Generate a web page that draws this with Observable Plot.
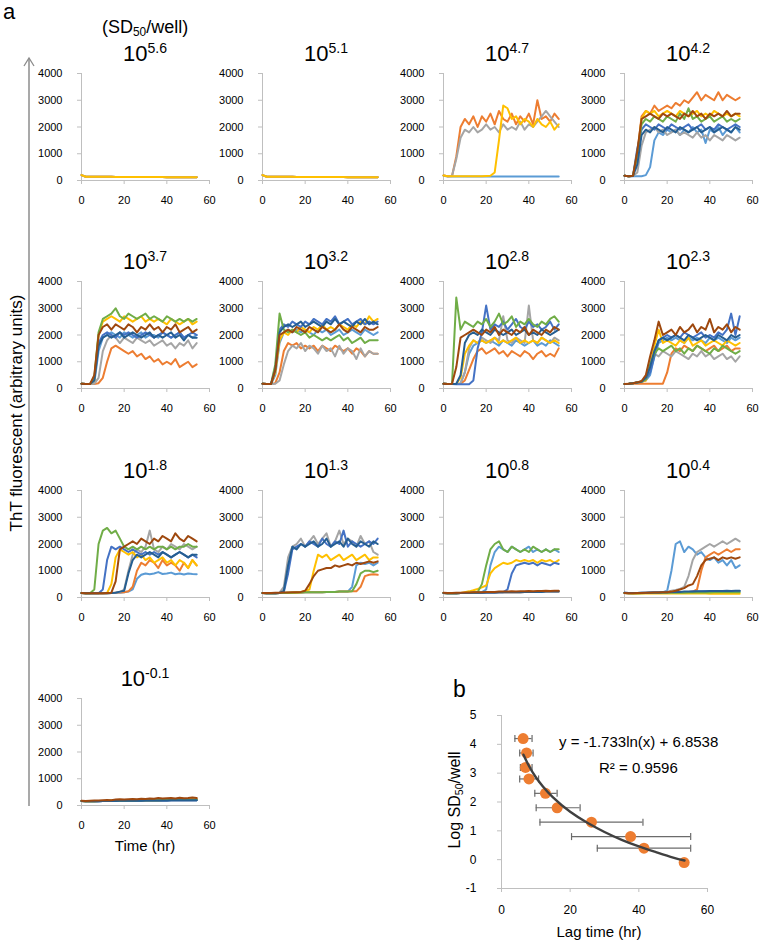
<!DOCTYPE html>
<html><head><meta charset="utf-8">
<script src="https://cdn.jsdelivr.net/npm/d3@7"></script>
<script src="https://cdn.jsdelivr.net/npm/@observablehq/plot@0.6"></script>
<style>
body{margin:0;background:#fff;font-family:"Liberation Sans",Arial,sans-serif;color:#000;}
#root{position:relative;width:760px;height:946px;overflow:hidden;background:#fff;}
.txt{position:absolute;line-height:1;white-space:nowrap;}
.txt sup{font-size:0.64em;position:relative;top:-0.62em;vertical-align:baseline;}
.txt sub{font-size:0.66em;position:relative;top:0.25em;vertical-align:baseline;}
</style></head><body><div id="root"></div>
<script>
// ---------- data ----------
const hours = [0,2,4,6,8,10,12,14,16,18,20,22,24,26,28,30,32,34,36,38,40,42,44,46,48,50,52,54];
const wellColors = ["#5B9BD5","#ED7D31","#A5A5A5","#FFC000","#4472C4","#70AD47","#255E91","#9E480E"];
const panelExponents = ["5.6","5.1","4.7","4.2","3.7","3.2","2.8","2.3","1.8","1.3","0.8","0.4","-0.1"];
const xTicks = [0,20,40,60];
const yTicks = [0,1000,2000,3000,4000];
// values are ThT fluorescence / 100, one per 2 hr
const flatHigh = [2.0,1.4,1.4,1.4,1.4,1.4,1.4,1.4,1.3,1.3,1.3,1.3,1.3,1.3,1.3,1.3,1.3,1.3,1.3,1.3,1.2,1.2,1.2,1.2,1.2,1.2,1.2,1.2];
const flatMid = [1.7,1.6,1.6,1.6,1.7,1.7,1.7,1.8,1.8,1.8,1.9,1.9,1.9,2,2,2,2,2,2,2.1,2.1,2.1,2.1,2.1,2.2,2.2,2.2,2.2];
const flatLow = [1.7,1.6,1.6,1.6,1.6,1.7,1.7,1.7,1.7,1.8,1.8,1.8,1.8,1.8,1.8,1.9,1.9,1.9,1.9,1.9,1.9,2,2,2,2,2,2,2];

const w56 = [flatHigh, flatHigh, flatHigh, flatHigh];
const w51 = [flatHigh, flatHigh, flatHigh, flatHigh];
const w47 = [
 [1.8,1.5,1.5,1.5,1.5,1.5,1.5,1.5,1.5,1.5,1.5,1.5,1.5,1.5,1.5,1.5,1.5,1.5,1.5,1.5,1.5,1.5,1.5,1.5,1.5,1.5,1.5,1.5],
 [1.9,1.6,1.7,9,20,23,21,24,20,24,22,25,21,26,23,22,25,21,24,22,25,21,30,23,24,22,25,23],
 [1.9,1.6,1.8,8,16,19,18,20,18,19,21,19,20,18,21,19,20,19,22,19,21,20,22,24,26,24,22,20],
 [1.9,1.6,1.6,1.6,1.6,1.6,1.6,1.6,1.6,1.6,1.7,1.8,3,15,28,27,23,24,21,23,22,20,23,21,20,22,19,21]
];
const w42 = [
 [1.8,1.6,1.6,1.6,1.6,2,5,15,18,17,19,18,19,17,19,18,20,18,19,14,19,18,20,17,19,18,20,18],
 [1.8,1.6,1.8,10,24,26,25,28,26,27,28,27,29,28,30,29,31,33,30,32,31,30,33,30,32,31,30,31],
 [1.8,1.6,1.7,3,13,18,19,20,18,19,17,18,19,17,18,17,16,18,16,17,15,17,16,15,17,16,15,16],
 [1.8,1.6,1.8,9,23,26,25,26,24,25,26,25,24,26,25,24,25,26,24,25,24,26,25,24,25,24,25,24],
 [1.8,1.6,1.8,12,19,21,20,19,21,20,19,21,20,19,20,21,19,20,21,19,20,19,21,20,19,20,21,20],
 [1.8,1.6,1.8,10,21,23,22,24,23,22,24,23,22,25,23,27,23,24,22,23,24,22,23,24,22,23,22,23],
 [1.8,1.6,1.7,6,17,19,18,20,19,18,20,19,18,20,19,18,19,20,18,19,20,18,19,20,19,18,20,19],
 [1.8,1.6,1.8,11,23,24,25,24,23,25,24,25,24,23,25,24,26,24,25,23,25,24,25,24,26,24,25,25]
];
const w37 = [
 [1.8,1.7,1.7,2,14,19,20,21,20,19,21,20,19,20,21,19,20,20,19,21,20,19,20,21,19,20,19,20],
 [1.8,1.7,1.7,1.7,2,4,10,15,16,15,14,13,14,12,13,11,12,10,11,9,10,9,11,8,9,10,8,9],
 [1.8,1.7,1.7,1.8,4,14,18,20,19,17,19,18,17,19,18,17,18,16,17,18,16,17,15,17,16,18,15,17],
 [1.8,1.7,1.7,3,20,25,26,27,26,25,27,26,25,26,27,25,26,25,26,25,24,26,25,24,25,26,24,25],
 [1.8,1.7,1.7,4,17,20,21,20,19,21,20,21,20,19,20,21,20,19,20,21,20,19,20,21,19,20,21,20],
 [1.8,1.7,1.7,4,21,26,27,28,30,27,26,28,27,26,27,28,26,27,26,25,27,26,25,26,25,26,25,26],
 [1.8,1.7,1.7,3,16,19,20,19,20,21,19,20,21,20,19,20,21,19,20,19,20,21,19,20,18,20,19,19],
 [1.8,1.7,1.7,5,20,23,24,22,24,23,22,24,23,21,23,22,24,22,23,21,23,22,24,21,22,23,21,22]
];
const w32 = [
 [1.8,1.7,1.7,5,17,21,22,21,22,21,22,21,20,22,21,22,20,21,22,20,21,22,21,20,22,21,20,21],
 [1.8,1.7,1.7,2,6,14,17,16,17,15,16,15,16,14,16,15,14,16,15,14,15,13,15,14,12,14,13,13],
 [1.8,1.7,1.7,1.8,3,9,14,16,15,17,14,16,15,13,16,14,15,12,16,13,15,14,11,15,12,14,13,13],
 [1.8,1.7,1.7,6,18,21,20,22,21,23,22,21,23,22,24,22,23,22,24,23,22,24,23,25,24,27,25,26],
 [1.8,1.7,1.7,8,22,24,23,25,24,23,25,24,26,25,24,26,25,27,24,25,26,24,25,26,24,25,24,25],
 [1.8,1.7,1.7,9,28,22,21,22,21,20,21,19,20,19,18,19,18,19,20,18,19,17,18,19,17,18,18,18],
 [1.8,1.7,1.7,7,21,23,24,23,24,25,23,24,25,24,23,25,24,26,24,25,24,23,25,24,26,24,25,24],
 [1.8,1.7,1.7,7,20,21,22,21,23,22,21,23,22,21,23,22,21,22,24,22,21,23,22,21,23,22,22,23]
];
const w28 = [
 [1.8,1.7,1.7,1.7,1.8,6,13,16,17,18,17,18,17,16,18,17,16,18,17,16,17,18,16,17,16,18,17,16],
 [1.8,1.7,1.7,1.7,1.8,3,7,11,14,15,13,14,15,13,14,12,14,13,12,14,13,11,13,14,12,13,12,15],
 [1.8,1.7,1.7,1.7,2,6,15,18,17,19,18,17,19,18,27,18,17,19,18,17,31,18,17,19,18,17,19,18],
 [1.8,1.7,1.7,1.7,4,13,16,18,17,18,17,18,19,17,18,17,18,19,17,18,17,18,17,19,18,17,18,17],
 [1.8,1.7,1.7,1.6,1.6,1.6,1.6,3,15,21,31,22,24,23,25,22,24,26,23,22,25,23,24,22,23,25,22,24],
 [1.8,1.7,1.8,34,22,25,24,23,25,24,26,23,25,28,24,25,27,23,25,24,26,24,23,25,24,26,27,25],
 [1.8,1.7,1.7,1.8,5,17,20,21,20,22,21,20,22,21,20,21,22,20,21,22,20,21,20,22,21,20,21,22],
 [1.8,1.7,1.8,8,19,20,21,22,21,20,22,21,23,20,22,21,20,22,21,23,20,22,21,20,22,21,23,22]
];
const w23 = [
 [1.7,1.8,2,2.2,2.5,3,5,12,17,18,19,18,19,18,17,19,18,19,18,17,19,18,19,18,17,19,18,19],
 [1.7,1.8,1.8,1.8,1.8,1.8,1.8,1.8,1.8,1.8,6,13,15,14,16,15,14,16,15,14,15,16,14,15,16,14,15,15],
 [1.7,1.8,2,2.3,2.7,4,11,13,12,14,13,12,14,13,12,11,13,12,14,12,13,11,12,13,11,12,10,12],
 [1.7,1.8,2,2.2,2.5,3,8,16,22,17,18,17,16,18,17,19,16,17,18,16,17,18,17,16,18,17,16,17],
 [1.7,1.8,2,2.2,2.5,3.5,6,12,18,19,20,19,20,19,21,20,19,20,21,19,20,19,21,20,22,28,20,27],
 [1.7,1.8,2,2.2,2.6,3.5,9,13,15,14,15,16,14,15,13,15,14,16,15,14,13,15,14,16,15,14,13,14],
 [1.7,1.8,2,2.2,2.6,4,8,14,18,19,18,19,20,19,18,20,19,18,19,20,19,18,20,19,18,20,19,20],
 [1.7,1.8,2,2.3,2.8,5,12,18,25,20,21,22,20,23,21,22,24,21,23,22,26,21,23,22,24,21,23,22]
];
const w18 = [
 [1.7,1.6,1.6,1.6,1.6,1.6,1.6,1.7,1.8,1.8,2,2.2,3,7,8.5,9,8.7,9,9.5,8.8,9,9.3,8.7,9,8.6,9,8.8,8.7],
 [1.7,1.6,1.6,1.6,1.6,1.6,1.6,1.7,1.8,1.9,2,2.3,4,10,13,12,14,13,11,14,12,13,12,10,13,11,14,12],
 [1.7,1.6,1.6,1.6,1.6,1.6,1.6,1.7,1.8,2,3,10,16,18,17,19,25,18,17,19,18,20,19,18,20,19,18,19],
 [1.7,1.6,1.6,1.6,1.6,1.6,1.7,5,15,18,17,16,17,15,16,14,15,13,14,15,13,14,12,14,13,11,14,12],
 [1.7,1.6,1.6,1.6,1.6,3,14,19,18,19,18,17,18,17,16,17,16,17,16,17,16,15,16,17,16,15,16,15],
 [1.7,1.6,1.6,3,20,25,26,24,25,22,19,18,19,18,19,18,19,18,19,19,18,19,18,19,19,20,19,19],
 [1.7,1.6,1.6,1.6,1.6,1.6,1.6,1.7,1.8,2.2,2.5,9,14,16,15,16,17,16,15,17,16,15,16,17,16,15,16,16],
 [1.7,1.6,1.6,1.6,1.6,1.6,1.7,1.8,6,18,19,20,21,20,22,21,20,22,21,23,22,21,24,22,21,23,22,21]
];
const w13 = [
 [1.7,1.6,1.6,1.6,1.7,1.7,1.8,1.8,1.9,1.9,2,2,2,2,2,2.1,2.1,2.1,2.2,2.2,2.2,4,12,13,12.5,13,12,13],
 [1.7,1.6,1.6,1.6,1.7,1.7,1.8,1.8,1.9,1.9,2,2,2,2,2,2.1,2.1,2.1,2.2,2.2,2.2,2.3,2.3,4,8,8.5,8.7,8.5],
 [1.7,1.6,1.6,1.6,1.8,4,15,19,20,22,19,21,23,20,22,24,19,21,25,20,22,21,19,23,20,21,17,16],
 [1.7,1.6,1.6,1.6,1.7,1.7,1.8,1.8,1.9,2,2.5,3,10,16,15,16,14,15,16,14,15,16,14,15,16,14,15,15],
 [1.7,1.6,1.6,1.6,1.7,2,9,18,19,20,19,21,20,19,22,20,19,21,20,25,19,21,20,19,20,21,20,22],
 [1.7,1.6,1.6,1.6,1.7,1.7,1.8,1.8,1.9,1.9,2,2,2,2,2,2.1,2.1,2.1,2.2,2.2,2.2,2.3,5,9,10,10,9.5,10],
 [1.7,1.6,1.6,1.6,1.7,2.5,12,19,18,20,19,20,21,19,20,22,19,20,21,19,22,20,19,21,20,19,21,20],
 [1.7,1.7,1.7,1.8,1.8,1.9,1.9,2,2,2.1,2.5,5,8,10,10.5,11,11,12,11.5,12,12.5,12,13,12.5,13,13.5,13,13.5]
];
const w08 = [
 [1.7,1.6,1.6,1.6,1.7,1.7,1.8,1.8,1.9,2,3,12,17,19,18,17,19,18,17,18,19,17,18,17,18,17,18,17],
 flatMid,
 flatMid,
 [1.7,1.6,1.6,1.6,1.7,2,2.3,2.7,3.2,3.8,4.5,9,11,12,13,12.5,13,14,13.5,14,13.5,14,13,14,13.5,14,13,14],
 [1.7,1.6,1.6,1.6,1.7,1.7,1.7,1.8,1.8,1.8,1.9,1.9,1.9,2,2,3,9,12,12.5,13,12.5,13,12,13,12.5,12,13,12.5],
 [1.7,1.6,1.6,1.6,1.7,1.7,1.8,1.8,2,5,12,18,20,21,18,17,19,18,17,18,17,19,18,17,18,17,18,18],
 flatMid,
 [1.8,1.7,1.7,1.8,1.8,1.9,1.9,2,2,2,2.1,2.1,2.1,2.2,2.2,2.2,2.3,2.2,2.3,2.3,2.4,2.3,2.4,2.4,2.5,2.4,2.5,2.5]
];
const w04 = [
 [1.7,1.6,1.6,1.6,1.7,1.7,1.8,1.8,1.9,2,2.5,10,20,21,17,19,18,16,17,15,14,15,13,14,12,14,11,12],
 [1.7,1.6,1.6,1.6,1.7,1.7,1.8,1.8,1.9,1.9,2,2,2,2,2.1,2.1,2.2,3,10,15,16,17,16,17,18,17,18,18],
 [1.7,1.6,1.6,1.6,1.7,1.7,1.8,1.8,1.9,2,2.2,2.5,2.8,3.2,4,8,14,17,18,19,20,19,20,21,20,21,22,21],
 [1.7,1.6,1.5,1.5,1.5,1.5,1.5,1.5,1.5,1.5,1.5,1.5,1.5,1.5,1.5,1.5,1.5,1.5,1.5,1.5,1.4,1.4,1.4,1.4,1.4,1.4,1.4,1.4],
 [1.8,1.7,1.7,1.7,1.8,1.8,1.8,1.9,1.9,1.9,2,2,2,2.1,2.1,2.1,2.2,2.2,2.2,2.3,2.3,2.3,2.3,2.4,2.3,2.4,2.3,2.4],
 flatLow,
 [1.8,1.7,1.7,1.7,1.8,1.8,1.9,1.9,1.9,2,2,2.1,2.1,2.1,2.2,2.2,2.2,2.3,2.3,2.3,2.4,2.4,2.4,2.4,2.5,2.4,2.5,2.5],
 [1.7,1.6,1.6,1.7,1.7,1.8,1.8,1.9,1.9,2,2,2.2,2.5,3,3.5,4.5,5,8,12,14,14.5,15,14,15,14.5,15,14.5,15]
];
const wm01 = [
 flatLow, flatMid, flatLow, flatMid, flatLow, flatMid, flatLow,
 [1.8,1.7,1.8,1.9,1.9,2,2.1,2,2.2,2.3,2.2,2.3,2.4,2.3,2.5,2.4,2.6,2.5,2.8,2.6,2.7,2.8,2.6,2.9,2.7,2.8,3,2.8]
];
const panels = [w56,w51,w47,w42,w37,w32,w28,w23,w18,w13,w08,w04,wm01];

// panel b
const logSD50 = [4.2,3.7,3.2,2.8,2.3,1.8,1.3,0.8,0.4,-0.1];
const lagTime = [6.3,7.3,7.0,8.0,12.8,16.2,26.2,37.6,41.5,53.2];
const lagLow  = [3.9,5.3,5.5,5.3,9.7,10.1,11.2,20.4,27.9,null];
const lagHigh = [8.9,9.2,8.9,10.8,16.2,22.9,41.2,55.1,55.1,null];
const trendX = [6.4,8,10,12,15,20,25,30,35,40,45,50,53.3];
const trendY = [3.64,3.25,2.86,2.55,2.16,1.66,1.28,0.96,0.69,0.46,0.26,0.07,-0.03];
const bXTicks = [0,20,40,60];
const bYTicks = [-1,0,1,2,3,4,5];

// ---------- layout ----------
const FONT = '"Liberation Sans", Arial, sans-serif';
const AXIS = "#bfbfbf";
const root = document.getElementById("root");
const colX = [81,262,443,624];
const rowY = [73,281,490,698];

function addText(html, x, baseline, size, anchor){
  const d = document.createElement("div");
  d.className = "txt";
  d.innerHTML = html;
  d.style.fontSize = size + "px";
  d.style.left = x + "px";
  d.style.top = (baseline - 0.8465*size) + "px";
  if (anchor === "middle") d.style.transform = "translateX(-50%)";
  root.appendChild(d);
  return d;
}
function addRotated(html, cx, cy, size){
  const d = document.createElement("div");
  d.className = "txt";
  d.innerHTML = html;
  d.style.fontSize = size + "px";
  d.style.left = cx + "px";
  d.style.top = cy + "px";
  d.style.transform = "translate(-50%,-50%) rotate(-90deg)";
  root.appendChild(d);
}
function place(svg, left, top){
  svg.style.position = "absolute";
  svg.style.left = left + "px";
  svg.style.top = top + "px";
  svg.style.overflow = "visible";
  root.appendChild(svg);
}

panels.forEach((panel, i) => {
  const col = i % 4, row = Math.floor(i / 4);
  const rows = [];
  panel.forEach((vals, j) => vals.forEach((v, k) => rows.push({t: hours[k], v: v * 100, s: j, c: wellColors[j]})));
  const svg = Plot.plot({
    width: 183, height: 142,
    marginLeft: 45, marginRight: 10, marginTop: 8, marginBottom: 27,
    style: {fontSize: "11px", fontFamily: FONT, color: "#000", background: "transparent"},
    x: {domain: [0, 60]},
    y: {domain: [0, 4000]},
    color: {type: "identity"},
    marks: [
      Plot.axisX({ticks: xTicks, tickSize: 4, tickPadding: 12, stroke: AXIS, fill: "#000", label: null}),
      Plot.axisY({ticks: yTicks, tickSize: 4, tickPadding: 15, stroke: AXIS, fill: "#000", label: null, tickFormat: d => String(d)}),
      Plot.ruleY([0], {stroke: AXIS}),
      Plot.ruleX([0], {stroke: AXIS}),
      Plot.line(rows, {x: "t", y: "v", z: "s", stroke: "c", strokeWidth: 2, strokeLinejoin: "round"})
    ]
  });
  place(svg, colX[col] - 45, rowY[row] - 8);
  addText("10<sup>" + panelExponents[i] + "</sup>", colX[col] + 64, rowY[row] - 11, 22, "middle");
});

// panel b
const pts = logSD50.map((y, i) => ({x: lagTime[i], y, lo: lagLow[i], hi: lagHigh[i]}));
const errs = pts.filter(d => d.lo != null);
const caps = errs.flatMap(d => [{x: d.lo, y: d.y}, {x: d.hi, y: d.y}]);
const trend = trendX.map((x, i) => ({x, y: trendY[i]}));
const capSymbol = {draw(ctx, size){ const r = Math.sqrt(size / Math.PI); ctx.moveTo(0, -r); ctx.lineTo(0, r); }};
const bsvg = Plot.plot({
  width: 276, height: 213,
  marginLeft: 50, marginRight: 20, marginTop: 10, marginBottom: 30,
  style: {fontSize: "12px", fontFamily: FONT, color: "#000", background: "transparent"},
  x: {domain: [0, 60]},
  y: {domain: [-1, 5]},
  marks: [
    Plot.axisX({ticks: bXTicks, tickSize: 4, tickPadding: 13, stroke: AXIS, fill: "#000", label: null}),
    Plot.axisY({ticks: bYTicks, tickSize: 4, tickPadding: 21, stroke: AXIS, fill: "#000", label: null, tickFormat: d => String(d)}),
    Plot.ruleY([bYTicks[0]], {stroke: AXIS}),
    Plot.ruleX([bXTicks[0]], {stroke: AXIS}),
    Plot.ruleY(errs, {x1: "lo", x2: "hi", y: "y", stroke: "#6b6b6b", strokeWidth: 1.2}),
    Plot.dot(caps, {x: "x", y: "y", symbol: capSymbol, r: 3.5, stroke: "#6b6b6b", fill: "none", strokeWidth: 1.2}),
    Plot.dot(pts, {x: "x", y: "y", r: 5.5, fill: "#ED7D31", stroke: "none"}),
    Plot.line(trend, {x: "x", y: "y", curve: "natural", stroke: "#404040", strokeWidth: 2.4})
  ]
});
place(bsvg, 451, 705);

// texts
addText("a", 3, 20, 22);
addText("(SD<sub>50</sub>/well)", 102, 33, 18);
addRotated("ThT fluorescent (arbitrary units)", 16, 413, 17);
addText("Time (hr)", 145, 851, 15, "middle");
addText("b", 453, 697, 23);
addRotated("Log SD<sub>50</sub>/well", 455, 800, 16);
addText("y = -1.733ln(x) + 6.8538", 559, 747, 15);
addText("R² = 0.9596", 599, 773, 15);
addText("Lag time (hr)", 599, 937, 15, "middle");

// arrow of the shared y axis
const ns = "http://www.w3.org/2000/svg";
const arr = document.createElementNS(ns, "svg");
arr.setAttribute("width", 760); arr.setAttribute("height", 946);
arr.style.position = "absolute"; arr.style.left = "0"; arr.style.top = "0";
arr.innerHTML = '<line x1="29" y1="58" x2="29" y2="806" stroke="#8c8c8c" stroke-width="1.5"/>' +
  '<polyline points="24,66 29,58 34,66" fill="none" stroke="#8c8c8c" stroke-width="1.3"/>';
root.appendChild(arr);
</script></body></html>
